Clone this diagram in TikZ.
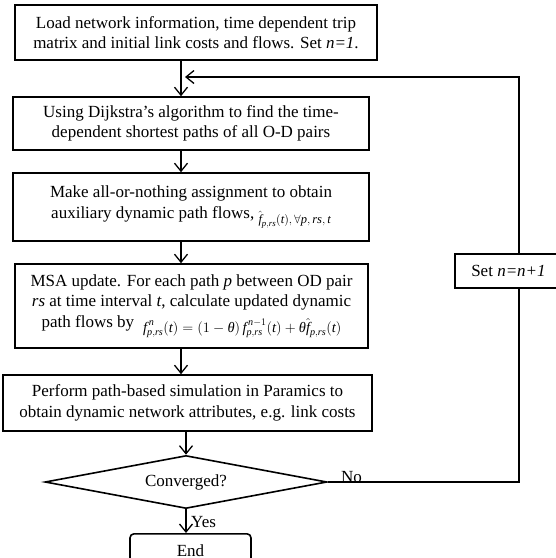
\documentclass[tikz,border=0pt]{standalone}
\usepackage{amsmath}
\usepackage{fontspec}
\setmainfont{Liberation Serif}
\usetikzlibrary{arrows.meta,shapes.geometric}
% italic letters inside formulas, taken from the text font
\newcommand\mi[1]{\textit{#1}}
\begin{document}
\begin{tikzpicture}[x=1pt,y=-1pt,
  box/.style={draw, line width=1.6pt, inner sep=2pt, align=center,
              font=\fontsize{17}{20.5}\selectfont},
  link/.style={line width=1.3pt,
               -{Straight Barb[length=8pt,width=13pt,line width=1.3pt]}},
  wire/.style={line width=1.3pt},
  tag/.style={font=\fontsize{17}{20}\selectfont, inner sep=0pt}]
\useasboundingbox (0,0) rectangle (556,558);
\clip (0,0) rectangle (556,558);

% main column
\node[box, minimum width=362pt, minimum height=55pt] (load) at (196,32.5)
  {Load network information, time dependent trip\\
   matrix and initial link costs and flows. Set \textit{n=1}.};
\node[box, minimum width=355.5pt, minimum height=53pt] (sp) at (191,123.5)
  {Using Dijkstra’s algorithm to find the time-\\
   dependent shortest paths of all O-D pairs};
\node[box, minimum width=355.5pt, minimum height=68pt] (aon) at (191,207)
  {Make all-or-nothing assignment to obtain\\
   auxiliary dynamic path flows, \raisebox{-5pt}{\fontsize{12.5}{14}\selectfont
   $\hat{\mi{f}}_{\mi{p},\mi{rs}}(\mi{t}),\forall \mi{p},\mi{rs},\mi{t}$}};
\node[box, minimum width=353pt, minimum height=84pt] (msa) at (191.5,306)
  {MSA update. For each path \textit{p} between OD pair\\
   \textit{rs} at time interval \textit{t}, calculate updated dynamic\\
   path flows by \;\raisebox{-5pt}{\fontsize{14.5}{16}\selectfont
   $\mi{f}^{\,\mi{n}}_{\mi{p},\mi{rs}}(\mi{t})=(1-\mi{θ})\,\mi{f}^{\,\mi{n}-1}_{\mi{p},\mi{rs}}(\mi{t})+\mi{θ}\hat{\mi{f}}_{\mi{p},\mi{rs}}(\mi{t})$}};
\node[box, minimum width=369pt, minimum height=56pt] (sim) at (187.5,403)
  {Perform path-based simulation in Paramics to\\
   obtain dynamic network attributes, e.g. link costs};
\node[draw, diamond, shape aspect=5.3, line width=1.6pt, inner sep=0pt,
      minimum width=282pt, minimum height=53pt,
      font=\fontsize{17}{20}\selectfont] (conv) at (186,482) {Converged?};
\node[box, rounded corners=4pt, minimum width=121pt, minimum height=34pt,
      anchor=north] (fin) at (190.5,533) {End};

% feedback branch
\node[box, minimum width=107pt, minimum height=34pt] (inc) at (508.5,271)
  {Set \textit{n=n+1}};

% guide lines for the connectors
\coordinate (spine) at (181,0);
\coordinate (rail) at (519,0);
\coordinate (entry) at (185,77);

\draw[link] (load.south -| spine) -- (sp.north -| spine);
\draw[link] (sp.south -| spine) -- (aon.north -| spine);
\draw[link] (aon.south -| spine) -- (msa.north -| spine);
\draw[link] (msa.south -| spine) -- (sim.north -| spine);
\draw[link] (sim.south -| conv.north) -- (conv.north);
\draw[link] (conv.south) -- (conv.south |- fin.north);

\draw[wire] (conv.east) -| (inc.south -| rail);
\draw[link] (inc.north -| rail) |- (entry);

\node[tag, anchor=base west] (no) at (341,482) {No};
\node[tag, anchor=base west] (yes) at (191,527) {Yes};
\end{tikzpicture}
\end{document}
